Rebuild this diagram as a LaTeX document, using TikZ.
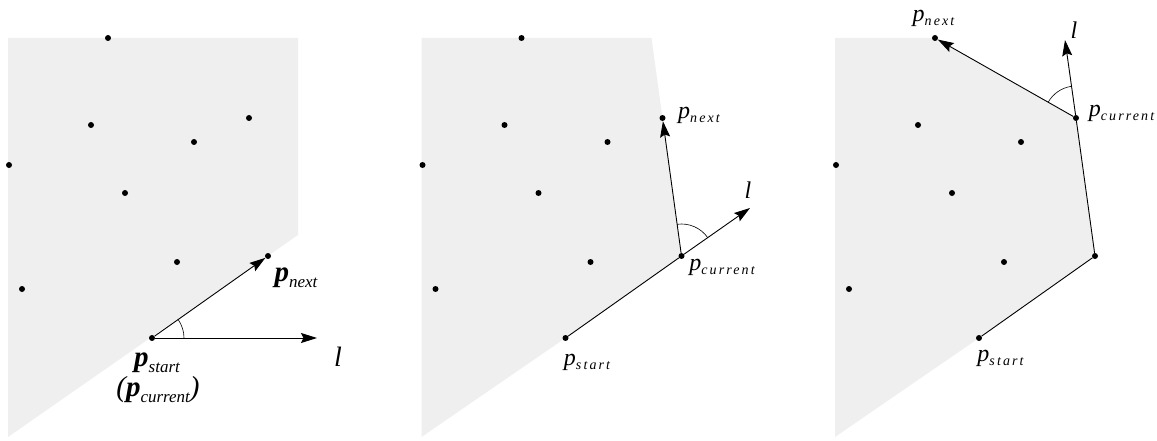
\documentclass[tikz,border=0pt]{standalone}
\usepackage{fontspec}
\newfontfamily\labfont{Liberation Serif}
\newfontfamily\subfont[LetterSpace=15]{Liberation Serif}
\usetikzlibrary{arrows.meta, angles, backgrounds}
\definecolor{hullgray}{RGB}{239,239,239}
% point labels: bold for the first panel, spaced subscripts for the others
\newcommand{\pbig}[1]{{\fontsize{29}{29}\selectfont\labfont\bfseries\itshape p}\raisebox{-6pt}{\fontsize{17}{17}\selectfont\labfont\itshape #1}}
\newcommand{\psmall}[1]{{\fontsize{24}{24}\selectfont\labfont\itshape p}\raisebox{-4pt}{\fontsize{14}{14}\selectfont\subfont\itshape #1}}
\newcommand{\lbig}{{\fontsize{28}{28}\selectfont\labfont\itshape l}}
\newcommand{\lsmall}{{\fontsize{24}{24}\selectfont\labfont\itshape l}}
\tikzset{
    ptdot/.style={circle, fill=black, inner sep=0pt, minimum size=6pt},
    arr/.style={-{Stealth[length=16pt, width=10pt, inset=2.5pt]}},
    edge/.style={line width=0.9pt},
    ang/.style={draw, line width=0.6pt, angle radius=32pt},
    lab/.style={inner sep=0pt}
}

\begin{document}
\begin{tikzpicture}[x=1pt, y=-1pt]
    \useasboundingbox (0,0) rectangle (1157,441);

    % Point set, repeated in each panel
    \foreach \k/\dx in {1/0, 2/413.5, 3/827} {
        \foreach \n/\x/\y in {a/108/38, b/91/125, c/249/118, d/194/142, e/9/165,
                              f/125/193, g/177/262, h/22/289, i/268/256, s/152/338} {
            \node[ptdot] (\n\k) at ({\x+\dx},\y) {};
        }
    }

    % Shaded regions
    \begin{scope}[on background layer]
        \fill[hullgray] (8,38) -- (298,38) -- (298,235) -- (8,437) -- cycle;
        \fill[hullgray] (421.5,38) -- (651.5,38) -- (c2.center) -- (i2.center)
            -- (s2.center) -- (421.5,437) -- cycle;
        \fill[hullgray] (835,38) -- (a3.center) -- (c3.center) -- (i3.center)
            -- (s3.center) -- (835,437) -- cycle;
    \end{scope}

    % Panel 1
    \coordinate (l1) at (317,338);
    \draw[edge, arr] (s1) -- (i1);
    \draw[edge, arr] (s1) -- (l1);
    \pic[ang] {angle = l1--s1--i1};
    \node[lab] (tnext1) at (296,278) {\pbig{next}};
    \node[lab] (tstart1) at (157,363) {\pbig{start}};
    \node[lab] (tcur1) at (158,390) {{\fontsize{29}{29}\selectfont\labfont\itshape (}\pbig{current}{\fontsize{29}{29}\selectfont\labfont\itshape )}};
    \node[lab] (tl1) at (338,357) {\lbig};

    % Panel 2
    \coordinate (l2) at (750,208);
    \draw[edge] (s2) -- (i2);
    \draw[edge, arr] (i2) -- (c2);
    \draw[edge, arr] (i2) -- (l2);
    \pic[ang] {angle = l2--i2--c2};
    \node[lab] (tnext2) at (699,115) {\psmall{next}};
    \node[lab] (tcur2) at (722,267) {\psmall{current}};
    \node[lab] (tstart2) at (587,362) {\psmall{start}};
    \node[lab] (tl2) at (748,190) {\lsmall};

    % Panel 3
    \coordinate (l3) at (1065,40);
    \draw[edge] (s3) -- (i3);
    \draw[edge] (i3) -- (c3);
    \draw[edge, arr] (c3) -- (a3);
    \draw[edge, arr] (c3) -- (l3);
    \pic[ang] {angle = l3--c3--a3};
    \node[lab] (tnext3) at (933.5,18) {\psmall{next}};
    \node[lab] (tcur3) at (1121.5,113) {\psmall{current}};
    \node[lab] (tstart3) at (1000.5,358) {\psmall{start}};
    \node[lab] (tl3) at (1074,30) {\lsmall};
\end{tikzpicture}
\end{document}
